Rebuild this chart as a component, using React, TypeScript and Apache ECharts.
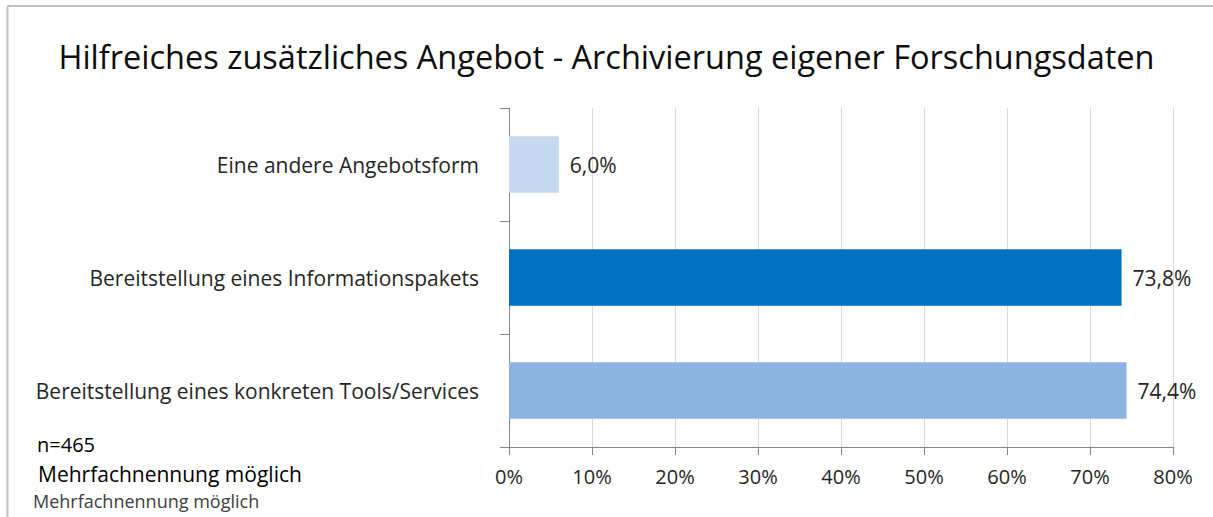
import React, { useEffect, useRef } from "react";
import * as echarts from "echarts";

const titleText = "Hilfreiches zusätzliches Angebot - Archivierung eigener Forschungsdaten";
const categories = [
  "Eine andere Angebotsform",
  "Bereitstellung eines Informationspakets",
  "Bereitstellung eines konkreten Tools/Services",
];
const values = [6.0, 73.8, 74.4];
const barColors = ["#C6D9F1", "#0070C0", "#8DB3E2"];
const xTicks = [0, 10, 20, 30, 40, 50, 60, 70, 80];
const noteLines = ["n=465", "Mehrfachnennung möglich"];
const footer = "Mehrfachnennung möglich";

const FONT = "Open Sans";

export default function App() {
  const ref = useRef<HTMLDivElement>(null);
  useEffect(() => {
    if (!ref.current) return;
    const chart = echarts.init(ref.current, undefined, { renderer: "svg" });
    chart.setOption({
      animation: false,
      backgroundColor: "#ffffff",
      title: {
        text: titleText,
        left: "center",
        top: 35,
        textStyle: { fontFamily: FONT, fontSize: 32.5, fontWeight: "normal", color: "#0d0d0d" },
      },
      grid: { left: 509, right: 40, top: 108, bottom: 70, containLabel: false },
      xAxis: {
        type: "value",
        min: xTicks[0],
        max: xTicks[xTicks.length - 1],
        interval: 10,
        axisLine: { show: true, lineStyle: { color: "#868686", width: 1 } },
        axisTick: { show: true, length: 8, lineStyle: { color: "#868686" } },
        splitLine: { show: true, lineStyle: { color: "#D9D9D9", width: 1 } },
        axisLabel: {
          formatter: "{value}%",
          fontFamily: FONT,
          fontSize: 20,
          color: "#262626",
          margin: 19,
        },
      },
      yAxis: {
        type: "category",
        inverse: true,
        data: categories,
        axisLine: { show: true, lineStyle: { color: "#868686", width: 1 } },
        axisTick: { show: true, length: 9, lineStyle: { color: "#868686" } },
        axisLabel: { fontFamily: FONT, fontSize: 21, color: "#262626", margin: 30 },
      },
      series: [
        {
          type: "bar",
          barWidth: "50%",
          data: values.map((v, i) => ({ value: v, itemStyle: { color: barColors[i] } })),
          label: {
            show: true,
            position: "right",
            distance: 11,
            fontFamily: FONT,
            fontSize: 21,
            color: "#262626",
            formatter: (p: any) => p.value.toFixed(1).replace(".", ",") + "%",
          },
        },
      ],
      graphic: [
        { type: "line", shape: { x1: 7.5, y1: 6, x2: 1213, y2: 6 }, style: { stroke: "#BFBFBF", lineWidth: 2 } },
        { type: "line", shape: { x1: 7.5, y1: 6, x2: 7.5, y2: 517 }, style: { stroke: "#BFBFBF", lineWidth: 2 } },
        {
          type: "text",
          left: 37,
          top: 434,
          style: { text: noteLines[0], font: `20px "${FONT}"`, fill: "#000000" },
        },
        {
          type: "text",
          left: 38,
          top: 463,
          style: { text: noteLines[1], font: `21px "${FONT}"`, fill: "#000000" },
        },
        {
          type: "text",
          left: 33,
          top: 492,
          style: { text: footer, font: `18px "${FONT}"`, fill: "#404040" },
        },
      ],
    });
    return () => chart.dispose();
  }, []);
  return (
    <div
      ref={ref}
      style={{ position: "fixed", left: 0, top: 0, width: 1213, height: 517 }}
    />
  );
}
